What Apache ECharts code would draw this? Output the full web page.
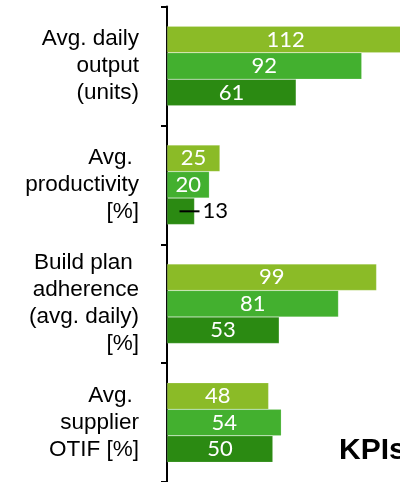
<!DOCTYPE html>
<html>
<head>
<meta charset="utf-8">
<script src="https://cdn.jsdelivr.net/npm/echarts@6/dist/echarts.min.js"></script>
<style>
  html, body { margin: 0; padding: 0; background: #ffffff; }
  #chart { width: 400px; height: 482px; }
</style>
</head>
<body>
<div id="chart"></div>
<script>
// KPI categories, top to bottom
const categories = [
  'Avg. daily\noutput\n(units)',
  'Avg. \nproductivity\n[%]',
  'Build plan \nadherence\n(avg. daily)\n[%]',
  'Avg. \nsupplier\nOTIF [%]'
];

// Three periods per KPI (light, medium, dark green)
const seriesNames = ['Period 1', 'Period 2', 'Period 3'];
const period1 = [112, 25, 99, 48];
const period2 = [92, 20, 81, 54];
const period3 = [61, 13, 53, 50];

const seriesColors = ['#8bbb27', '#43b02f', '#2b8a12'];
const chartTitle = 'KPIs';

// Bars too short to hold their value get the label outside, with a leader line
const insideMin = 15;

function makeData(values) {
  return values.map(function (v) {
    if (v >= insideMin) return v;
    return {
      value: v,
      label: {
        position: 'right',
        distance: 0,
        offset: [-15, 0],
        formatter: '{line|}{val|{c}}',
        rich: {
          line: { width: 20, height: 2, backgroundColor: '#000000' },
          val: {
            color: '#000000',
            fontFamily: 'Lato',
            fontSize: 22,
            padding: [0, 0, 0, 3]
          }
        }
      }
    };
  });
}

const allValues = [period1, period2, period3];

const chart = echarts.init(document.getElementById('chart'), null, { renderer: 'canvas' });

chart.setOption({
  animation: false,
  backgroundColor: '#ffffff',
  grid: {
    left: 167,
    top: 6.5,
    width: 254,
    height: 475.5,
    outerBoundsMode: 'none',
    containLabel: false
  },
  xAxis: {
    type: 'value',
    min: 0,
    max: 120,
    show: false
  },
  yAxis: {
    type: 'category',
    data: categories,
    inverse: true,
    offset: 1,
    axisLine: { show: true, lineStyle: { color: '#000000', width: 2 } },
    axisTick: { show: true, length: 6, lineStyle: { color: '#000000', width: 2 } },
    axisLabel: {
      color: '#000000',
      fontFamily: 'Liberation Sans',
      fontSize: 22.5,
      lineHeight: 27,
      align: 'right',
      margin: 27
    },
    splitLine: { show: false }
  },
  series: allValues.map(function (vals, i) {
    return {
      name: seriesNames[i],
      type: 'bar',
      data: makeData(vals),
      barWidth: 26.5,
      barGap: '0%',
      itemStyle: {
        color: seriesColors[i],
        borderColor: 'rgba(255,255,255,0.35)',
        borderWidth: 0.5
      },
      label: {
        show: true,
        position: 'inside',
        color: '#ffffff',
        fontFamily: 'Lato',
        fontSize: 22
      }
    };
  }),
  graphic: [{
    type: 'text',
    left: 339,
    top: 436,
    style: {
      text: chartTitle,
      fill: '#000000',
      font: 'bold 30px "Liberation Sans"'
    }
  }]
});
</script>
</body>
</html>
